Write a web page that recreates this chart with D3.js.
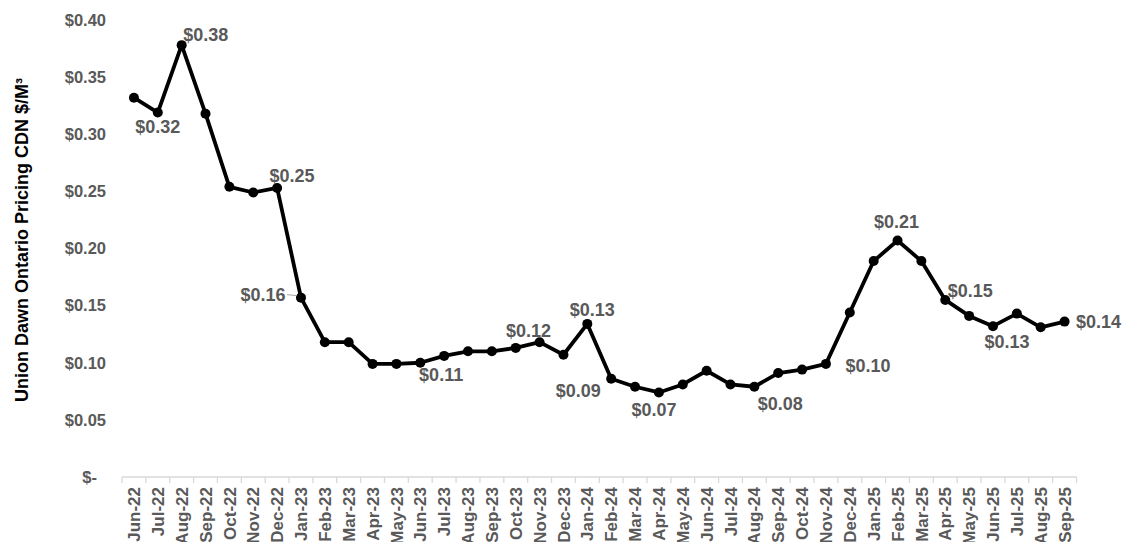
<!DOCTYPE html>
<html>
<head>
<meta charset="utf-8">
<script src="https://cdn.jsdelivr.net/npm/d3@7/dist/d3.min.js"></script>
<style>
  html, body { margin: 0; padding: 0; background: #fff; }
  svg { display: block; font-family: "Liberation Sans", Arial, sans-serif; }
</style>
</head>
<body>
<svg id="chart" width="1134" height="542"></svg>
<script>
// Monthly Union Dawn price, CDN $ per cubic metre
const months = [
  "Jun-22","Jul-22","Aug-22","Sep-22","Oct-22","Nov-22","Dec-22",
  "Jan-23","Feb-23","Mar-23","Apr-23","May-23","Jun-23","Jul-23","Aug-23","Sep-23","Oct-23","Nov-23","Dec-23",
  "Jan-24","Feb-24","Mar-24","Apr-24","May-24","Jun-24","Jul-24","Aug-24","Sep-24","Oct-24","Nov-24","Dec-24",
  "Jan-25","Feb-25","Mar-25","Apr-25","May-25","Jun-25","Jul-25","Aug-25","Sep-25"
];
const prices = [
  0.332, 0.319, 0.378, 0.318, 0.254, 0.249, 0.253,
  0.157, 0.118, 0.118, 0.099, 0.099, 0.100, 0.106, 0.110, 0.110, 0.113, 0.118, 0.107,
  0.134, 0.086, 0.079, 0.074, 0.081, 0.093, 0.081, 0.079, 0.091, 0.094, 0.099, 0.144,
  0.189, 0.207, 0.189, 0.155, 0.141, 0.132, 0.143, 0.131, 0.136
];
const yTicks = [0, 0.05, 0.10, 0.15, 0.20, 0.25, 0.30, 0.35, 0.40];
const labelledMonths = [
  "Jul-22","Aug-22","Dec-22","Jan-23","Jul-23","Nov-23","Jan-24","Feb-24",
  "Apr-24","Aug-24","Nov-24","Feb-25","Apr-25","Jun-25","Sep-25"
];
const axisTitle = "Union Dawn Ontario Pricing CDN $/M³";

// Label placement (offset of the label centre from its point, px)
const labelOffset = {
  "Jul-22": [0, 14], "Aug-22": [24, -11], "Dec-22": [15, -12], "Jan-23": [-38, -3],
  "Jul-23": [-3, 19], "Nov-23": [-11, -12], "Jan-24": [5, -14], "Feb-24": [-33, 12],
  "Apr-24": [-5, 17], "Aug-24": [26, 17], "Nov-24": [42, 2], "Feb-25": [-1, -19],
  "Apr-25": [25, -9], "Jun-25": [14, 15], "Sep-25": [34, 0]
};

const svg = d3.select("#chart");
const x = d3.scaleBand().domain(months).range([122, 1076.5]).padding(0);
const y = d3.scaleLinear().domain([0, 0.4]).range([477, 20]);
const cx = m => x(m) + x.bandwidth() / 2;

const fmt = v => v === 0 ? "$-" : "$" + d3.format(".2f")(v);
const grey = "#595959";

// Y axis labels (no axis line, no gridlines)
const yAxis = svg.append("g").attr("transform", "translate(106,0)")
  .call(d3.axisLeft(y).tickValues(yTicks).tickFormat(fmt).tickSize(0).tickPadding(0));
yAxis.select(".domain").remove();
yAxis.selectAll("text")
  .attr("fill", grey).attr("font-size", 16.5).attr("font-weight", "bold")
  .attr("font-family", "Liberation Sans, Arial, sans-serif")
  .attr("x", d => d === 0 ? -9 : 0);

// X axis with tick marks between categories
const xg = svg.append("g").attr("transform", "translate(0,477)");
xg.append("line").attr("x1", x.range()[0]).attr("x2", x.range()[1])
  .attr("stroke", "#d9d9d9").attr("stroke-width", 1.3);
const bounds = months.map(m => x(m)).concat([x.range()[1]]);
xg.selectAll("line.tick").data(bounds).join("line").attr("class", "tick")
  .attr("x1", d => d).attr("x2", d => d).attr("y1", 0).attr("y2", 6)
  .attr("stroke", "#d9d9d9").attr("stroke-width", 1.3);
xg.selectAll("text").data(months).join("text")
  .attr("transform", d => `translate(${cx(d)},10) rotate(-90)`)
  .attr("text-anchor", "end").attr("dy", "0.36em")
  .attr("fill", grey).attr("font-size", 17).attr("font-weight", "bold")
  .text(d => d);

// Axis title
svg.append("text")
  .attr("transform", "translate(22,240) rotate(-90)")
  .attr("text-anchor", "middle").attr("dy", "0.36em")
  .attr("fill", "#000").attr("font-size", 18).attr("font-weight", "bold")
  .text(axisTitle);

// Price line and markers
const line = d3.line().x((d, i) => cx(months[i])).y(d => y(d));
svg.append("path").datum(prices).attr("d", line)
  .attr("fill", "none").attr("stroke", "#000").attr("stroke-width", 3.8)
  .attr("stroke-linejoin", "round");
svg.selectAll("circle.pt").data(prices).join("circle").attr("class", "pt")
  .attr("cx", (d, i) => cx(months[i])).attr("cy", d => y(d)).attr("r", 5)
  .attr("fill", "#000");

// Data labels
const labelData = labelledMonths.map(m => {
  const v = prices[months.indexOf(m)];
  const [dx, dy] = labelOffset[m];
  return { m, v, px: cx(m), py: y(v), lx: cx(m) + dx, ly: y(v) + dy };
});
svg.selectAll("text.lbl").data(labelData).join("text").attr("class", "lbl")
  .attr("x", d => d.lx).attr("y", d => d.ly).attr("dy", "0.36em")
  .attr("text-anchor", "middle")
  .attr("fill", grey).attr("font-size", 18).attr("font-weight", "bold")
  .text(d => fmt(d.v));

// Leader line for the label set away from its point
const lead = labelData.find(d => d.m === "Jan-23");
svg.append("line")
  .attr("x1", lead.lx + 24).attr("y1", lead.ly)
  .attr("x2", lead.px - 4).attr("y2", lead.py - 2)
  .attr("stroke", "#a6a6a6").attr("stroke-width", 1);
</script>
</body>
</html>
